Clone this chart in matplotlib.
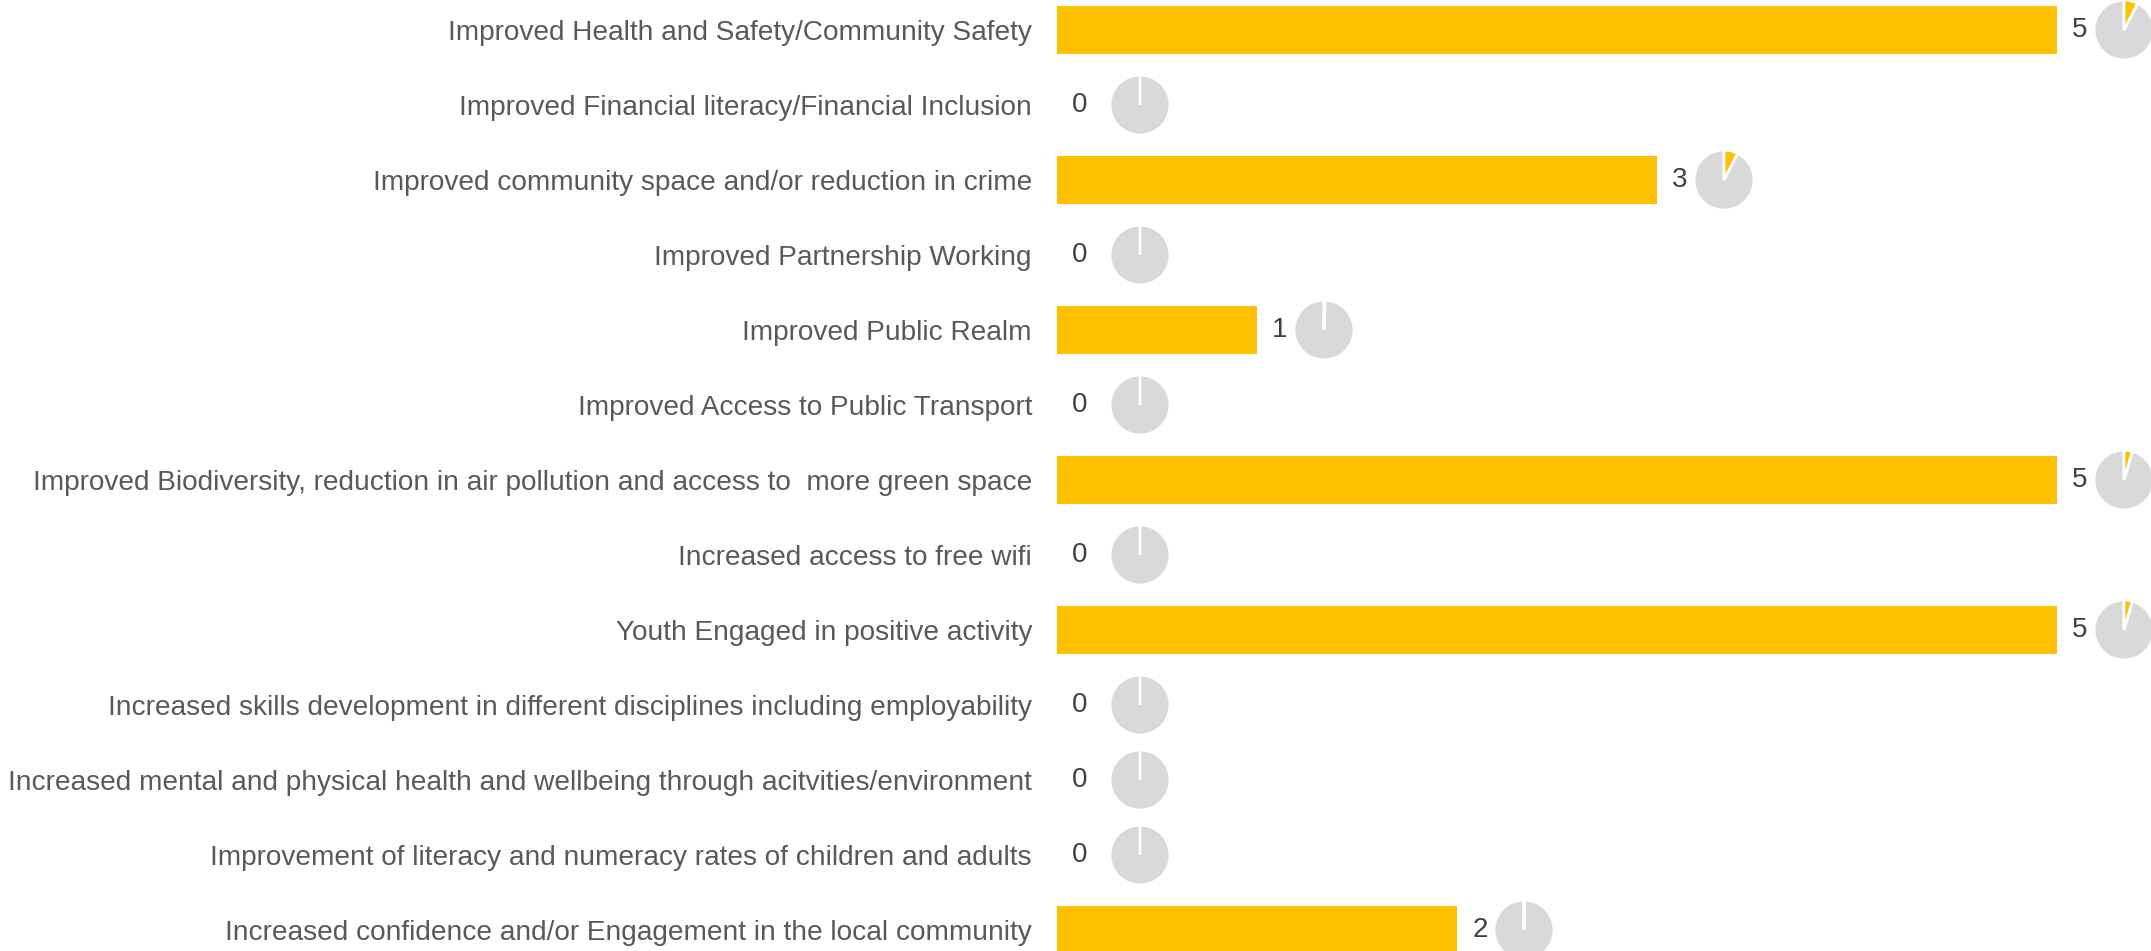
import matplotlib.pyplot as plt
from matplotlib.patches import Wedge
from matplotlib.transforms import ScaledTranslation

categories = [
    "Improved Health and Safety/Community Safety",
    "Improved Financial literacy/Financial Inclusion",
    "Improved community space and/or reduction in crime",
    "Improved Partnership Working",
    "Improved Public Realm",
    "Improved Access to Public Transport",
    "Improved Biodiversity, reduction in air pollution and access to  more green space",
    "Increased access to free wifi",
    "Youth Engaged in positive activity",
    "Increased skills development in different disciplines including employability",
    "Increased mental and physical health and wellbeing through acitvities/environment",
    "Improvement of literacy and numeracy rates of children and adults",
    "Increased confidence and/or Engagement in the local community",
]
values = [5, 0, 3, 0, 1, 0, 5, 0, 5, 0, 0, 0, 2]
# share shown in the little pie next to each bar
pie_share = [0.075, 0, 0.075, 0, 0.006, 0, 0.045, 0, 0.045, 0, 0, 0, 0.004]

BAR = "#FFC000"
GREY = "#D9D9D9"

plt.rcParams["font.family"] = ["Liberation Sans", "DejaVu Sans"]

fig = plt.figure(figsize=(21.51, 9.51), dpi=100)
ax = fig.add_axes([1057 / 2151, 0, 1094 / 2151, 1])

ypos = list(range(len(categories)))
ax.barh(ypos, values, height=0.65, color=BAR)
ax.set_xlim(0, 1094 / 200)
ax.set_ylim((951 - 30) / 75, -30 / 75)

ax.set_yticks(ypos)
ax.set_yticklabels(categories, fontsize=20.2, color="#595959")
ax.tick_params(axis="y", length=0, pad=18)
ax.set_xticks([])
for s in ax.spines.values():
    s.set_visible(False)

for i, (v, sh) in enumerate(zip(values, pie_share)):
    # value label
    ax.annotate(str(v), (v, i), xytext=(23, 0), textcoords="offset pixels",
                ha="center", va="center", fontsize=20, color="#404040")
    # small pie
    off = 0.83 if v == 0 else 0.67
    tr = fig.dpi_scale_trans + ScaledTranslation(v, i, ax.transData)
    tr = tr + ScaledTranslation(off, 0, fig.dpi_scale_trans)
    ang = sh * 360
    ax.add_patch(Wedge((0, 0), 0.30, 90, 450 - ang, facecolor=GREY,
                       edgecolor="white", linewidth=2, transform=tr, clip_on=False))
    ax.add_patch(Wedge((0, 0), 0.30, 90 - ang, 90, facecolor=BAR,
                       edgecolor="white", linewidth=2, transform=tr, clip_on=False))

fig.savefig("out.png", dpi=100)
